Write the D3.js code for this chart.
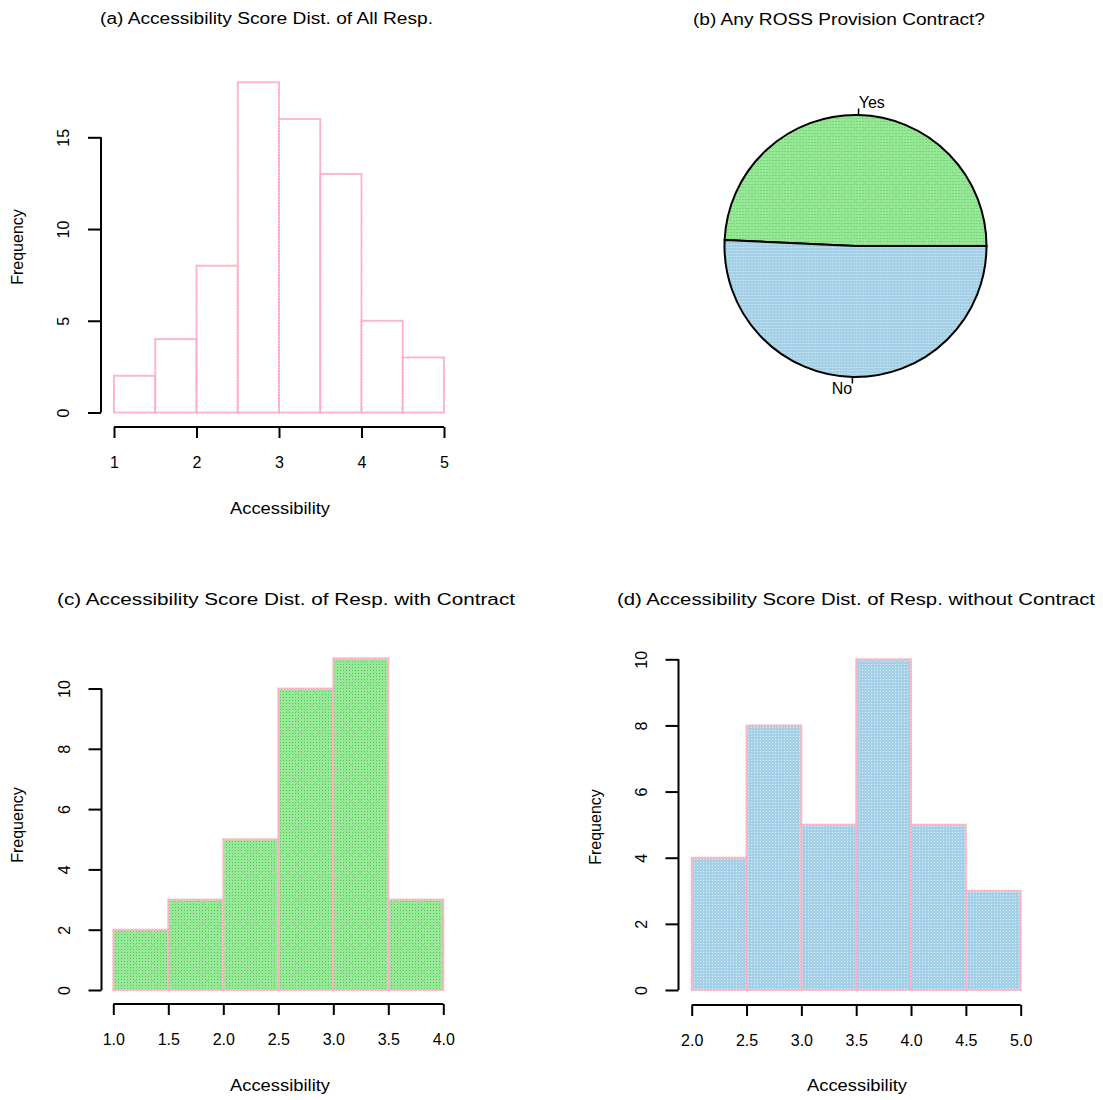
<!DOCTYPE html>
<html><head><meta charset="utf-8">
<script src="https://cdn.jsdelivr.net/npm/d3@7"></script>
<style>
body{margin:0;background:#fff;}
svg text{font-family:"Liberation Sans",Arial,sans-serif;fill:#000;}
</style></head>
<body>
<svg id="c" width="1103" height="1100"></svg>
<script>
// ---- data ----
const titles = [
  "(a) Accessibility Score Dist. of All Resp.",
  "(b) Any ROSS Provision Contract?",
  "(c) Accessibility Score Dist. of Resp. with Contract",
  "(d) Accessibility Score Dist. of Resp. without Contract"
];
const binsA = [1,1.5,2,2.5,3,3.5,4,4.5,5];
const countsA = [2,4,8,18,16,13,5,3];
const binsC = [1,1.5,2,2.5,3,3.5,4];
const countsC = [2,3,5,10,11,3];
const binsD = [2,2.5,3,3.5,4,4.5,5];
const countsD = [4,8,5,10,5,3];
const pieLabels = ["Yes","No"];
const pieValues = [34,35];
const xTicksA = [1,2,3,4,5];
const yTicksA = [0,5,10,15];
const xTicksC = [1.0,1.5,2.0,2.5,3.0,3.5,4.0];
const yTicksC = [0,2,4,6,8,10];
const xTicksD = [2.0,2.5,3.0,3.5,4.0,4.5,5.0];
const yTicksD = [0,2,4,6,8,10];
const xLabel = "Accessibility", yLabel = "Frequency";

const svg = d3.select("#c");
const defs = svg.append("defs");

// green pattern
const pg = defs.append("pattern").attr("id","pGreen").attr("patternUnits","userSpaceOnUse")
  .attr("width",9).attr("height",9);
pg.append("rect").attr("width",9).attr("height",9).attr("fill","#94ec94");
pg.append("path").attr("d","M0,0L9,9M9,0L0,9").attr("stroke","#a8c8a8").attr("stroke-width",0.7);
[[1.5,1.5],[4.5,1.5],[7.5,1.5],[1.5,4.5],[4.5,4.5],[7.5,4.5],[1.5,7.5],[4.5,7.5],[7.5,7.5]].forEach(p=>
  pg.append("rect").attr("x",p[0]-0.5).attr("y",p[1]-0.5).attr("width",1).attr("height",1).attr("fill","#5cc05c"));

// blue pattern
const pb = defs.append("pattern").attr("id","pBlue").attr("patternUnits","userSpaceOnUse")
  .attr("width",3).attr("height",3);
pb.append("rect").attr("width",3).attr("height",3).attr("fill","#a4cfe6");
pb.append("rect").attr("x",1).attr("y",1).attr("width",1).attr("height",1).attr("fill","#d6f6f6");

function hist(cfg){
  const x = d3.scaleLinear().domain(cfg.xd).range(cfg.xr);
  const y = d3.scaleLinear().domain([0,cfg.yTop]).range(cfg.yr);
  const g = svg.append("g");
  const data = cfg.counts.map((c,i)=>({x0:cfg.bins[i],x1:cfg.bins[i+1],c}));
  g.selectAll("rect.bar").data(data).join("rect").attr("class","bar")
    .attr("x",d=>x(d.x0)).attr("width",d=>x(d.x1)-x(d.x0))
    .attr("y",d=>y(d.c)).attr("height",d=>y(0)-y(d.c))
    .attr("fill",cfg.fill).attr("stroke","#ffc0cb").attr("stroke-width",2);
  g.selectAll("rect.dot").data(data).join("rect").attr("class","dot")
    .attr("x",d=>x(d.x0)).attr("width",d=>x(d.x1)-x(d.x0))
    .attr("y",d=>y(d.c)).attr("height",d=>y(0)-y(d.c))
    .attr("fill","none").attr("stroke","#ff80c0").attr("stroke-width",1)
    .attr("stroke-dasharray","1,2").attr("opacity",0.7);
  // x axis
  const xa = g.append("g").attr("transform",`translate(0,${cfg.xAxisY})`)
    .call(d3.axisBottom(x).tickValues(cfg.xTicks).tickSize(11).tickSizeOuter(0).tickFormat(cfg.xFmt).tickPadding(19));
  xa.select(".domain").attr("stroke","#000").attr("stroke-width",2).attr("d",`M${x(cfg.xTicks[0])},0H${x(cfg.xTicks[cfg.xTicks.length-1])}`);
  xa.selectAll(".tick line").attr("stroke","#000").attr("stroke-width",2);
  xa.selectAll(".tick text").attr("font-size",16).attr("font-family",null);
  // y axis
  const ya = g.append("g").attr("transform",`translate(${cfg.yAxisX},0)`)
    .call(d3.axisLeft(y).tickValues(cfg.yTicks).tickSize(13).tickSizeOuter(0).tickFormat(d3.format("d")));
  ya.select(".domain").attr("stroke","#000").attr("stroke-width",2).attr("d",`M0,${y(cfg.yTicks[0])}V${y(cfg.yTicks[cfg.yTicks.length-1])}`);
  ya.selectAll(".tick line").attr("stroke","#000").attr("stroke-width",2);
  ya.selectAll(".tick text").attr("font-size",16).attr("font-family",null)
    .attr("x",null).attr("dy",null).attr("text-anchor","middle").attr("dominant-baseline","middle")
    .attr("transform","translate(-36,0) rotate(-90)");
  // labels
  g.append("text").attr("x",cfg.xLabX).attr("y",cfg.xLabY).attr("text-anchor","middle")
    .attr("dominant-baseline","middle").attr("font-size",16).attr("textLength",100).attr("lengthAdjust","spacingAndGlyphs").text(xLabel);
  g.append("text").attr("transform",`translate(${cfg.yLabX},${cfg.yLabY}) rotate(-90)`).attr("text-anchor","middle")
    .attr("dominant-baseline","middle").attr("font-size",16).text(yLabel);
  g.append("text").attr("x",cfg.tx).attr("y",cfg.ty).attr("text-anchor","middle")
    .attr("dominant-baseline","middle").attr("font-size",16).attr("textLength",cfg.tw).attr("lengthAdjust","spacingAndGlyphs").text(cfg.title);
}

hist({bins:binsA,counts:countsA,xd:[1,5],xr:[114,444],yTop:15,yr:[412.5,137.3],fill:"#fff",
  xAxisY:427,yAxisX:101,xTicks:xTicksA,yTicks:yTicksA,xFmt:d3.format("d"),
  xLabX:280,xLabY:510,yLabX:19,yLabY:247,title:titles[0],tx:266.5,ty:20,tw:333});
hist({bins:binsC,counts:countsC,xd:[1,4],xr:[113.3,443.3],yTop:10,yr:[990,688.5],fill:"url(#pGreen)",
  xAxisY:1004,yAxisX:101.5,xTicks:xTicksC,yTicks:yTicksC,xFmt:d3.format(".1f"),
  xLabX:280,xLabY:1087,yLabX:19,yLabY:825,title:titles[2],tx:286,ty:601,tw:458});
hist({bins:binsD,counts:countsD,xd:[2,5],xr:[691.7,1020.7],yTop:10,yr:[990,659.3],fill:"url(#pBlue)",
  xAxisY:1005,yAxisX:678.5,xTicks:xTicksD,yTicks:yTicksD,xFmt:d3.format(".1f"),
  xLabX:857,xLabY:1087,yLabX:597,yLabY:827,title:titles[3],tx:856,ty:601,tw:478});

// pie
const cx = 855.5, cy = 246, r = 131;
const pie = d3.pie().sort(null).startAngle(Math.PI/2).endAngle(Math.PI/2 - 2*Math.PI);
const arcs = pie(pieValues);
const arc = d3.arc().innerRadius(0).outerRadius(r);
const pg2 = svg.append("g").attr("transform",`translate(${cx},${cy})`);
const fills = ["url(#pGreen)","url(#pBlue)"];
pg2.selectAll("path.sl").data(arcs).join("path").attr("class","sl")
  .attr("d",arc).attr("fill",(d,i)=>fills[i]).attr("stroke","#000").attr("stroke-width",2);
arcs.forEach((a,i)=>{
  const mid = (a.startAngle + a.endAngle)/2; // d3 angle, clockwise from north
  const sx = Math.sin(mid), sy = -Math.cos(mid);
  pg2.append("line").attr("x1",r*sx).attr("y1",r*sy).attr("x2",1.05*r*sx).attr("y2",1.05*r*sy)
    .attr("stroke","#000").attr("stroke-width",1.5);
  pg2.append("text").attr("x",1.1*r*sx).attr("y",1.1*r*sy + (sy<0?2:0))
    .attr("text-anchor", sx>0?"start":"end").attr("dominant-baseline","middle")
    .attr("font-size",16).text(pieLabels[i]);
});
svg.append("text").attr("x",839).attr("y",21).attr("text-anchor","middle").attr("dominant-baseline","middle")
  .attr("font-size",16).attr("textLength",292).attr("lengthAdjust","spacingAndGlyphs").text(titles[1]);
</script>
</body></html>
